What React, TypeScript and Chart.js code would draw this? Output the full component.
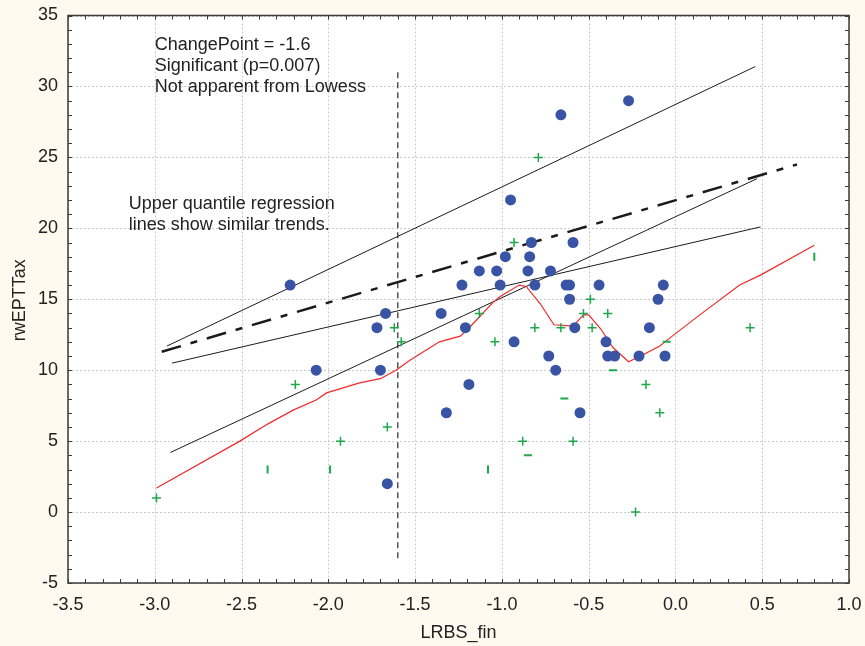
import React, { useEffect, useRef } from 'react';
import { Chart, registerables } from 'chart.js';

Chart.register(...registerables);

const X_TICKS = [-3.5, -3.0, -2.5, -2.0, -1.5, -1.0, -0.5, 0.0, 0.5, 1.0];
const Y_TICKS = [-5, 0, 5, 10, 15, 20, 25, 30, 35];
const X_TITLE = 'LRBS_fin';
const Y_TITLE = 'rwEPTTax';

// Observed values (blue circles)
const BLUE_X = [-0.66, -0.27, -0.95, -2.22, -2.07, -0.83, -0.59, -0.98, -0.84, -1.13, -1.03, -0.85, -0.72, -1.23, -1.01, -0.81, -0.63, -0.61, -0.44, -0.07, -0.61, -0.10, -1.67, -1.35, -1.72, -1.21, -0.58, -0.15, -0.93, -0.40, -0.73, -0.39, -0.35, -0.21, -0.06, -1.70, -0.69, -1.19, -1.32, -0.55, -1.66];
const BLUE_Y = [28, 29, 22, 16, 10, 19, 19, 18, 18, 17, 17, 17, 17, 16, 16, 16, 16, 16, 16, 16, 15, 15, 14, 14, 13, 13, 13, 13, 12, 12, 11, 11, 11, 11, 11, 10, 10, 9, 7, 7, 2];

// Green plus markers
const PLUS_X = [-0.79, -2.19, -0.93, -0.49, -1.13, -0.53, -0.39, -1.62, -0.81, -0.66, -0.48, -1.58, -1.04, -0.17, -0.09, 0.43, -1.66, -1.93, -2.99, -0.88, -0.59, -0.23];
const PLUS_Y = [25, 9, 19, 15, 14, 14, 14, 13, 13, 13, 13, 12, 12, 9, 7, 13, 6, 5, 1, 5, 5, 0];
// Green dash markers
const DASH_X = [-0.36, -0.64, -0.05, -0.85];
const DASH_Y = [10, 8, 12, 4];
// Green bar markers
const BAR_X = [0.80, -2.35, -1.99, -1.08];
const BAR_Y = [18, 3, 3, 3];

// Lowess curve
const LOWESS_X = [-2.99, -2.51, -2.35, -2.20, -2.07, -2.01, -1.82, -1.70, -1.61, -1.53, -1.36, -1.24, -1.18, -1.05, -1.01, -0.90, -0.86, -0.78, -0.70, -0.59, -0.53, -0.50, -0.43, -0.36, -0.27, -0.20, -0.09, -0.05, 0.14, 0.37, 0.49, 0.80];
const LOWESS_Y = [1.7, 5.0, 6.2, 7.2, 7.9, 8.4, 9.1, 9.4, 10.0, 10.7, 12.0, 12.4, 13.1, 14.8, 15.2, 16.0, 15.9, 14.7, 13.2, 13.1, 13.9, 13.9, 12.9, 11.6, 10.6, 11.0, 11.7, 12.1, 13.9, 16.0, 16.7, 18.8];

// Quantile regression lines (endpoints)
const UPPER_X = [-2.93, 0.46];
const UPPER_Y = [11.7, 31.4];
const MID_X = [-2.90, 0.49];
const MID_Y = [10.5, 20.1];
const STEEP_X = [-2.91, 0.47];
const STEEP_Y = [4.2, 23.5];
const DASHED_X = [-2.96, 0.70];
const DASHED_Y = [11.3, 24.5];

// Change point
const CHANGE_X = [-1.6, -1.6];
const CHANGE_Y = [31, -3.4];

const NOTES = [
  { text: 'ChangePoint = -1.6', x: -3.0, y: 32.9 },
  { text: 'Significant (p=0.007)', x: -3.0, y: 31.45 },
  { text: 'Not apparent from Lowess', x: -3.0, y: 29.97 },
  { text: 'Upper quantile regression', x: -3.15, y: 21.7 },
  { text: 'lines show similar trends.', x: -3.15, y: 20.22 },
];

const FONT = '"Liberation Sans", Arial, Helvetica, sans-serif';
const BLUE = '#3a54a5';
const GREEN = '#1ea84b';
const RED = '#ee2a2a';
const INK = '#1b1b1b';

const zip = (xs: number[], ys: number[]) => xs.map((x, i) => ({ x, y: ys[i] }));

const gridPlugin = {
  id: 'gridPlugin',
  beforeDatasetsDraw(chart: any) {
    const { ctx, chartArea: a, scales } = chart;
    const xs = scales.x, ys = scales.y;
    ctx.save();
    ctx.strokeStyle = '#c9c9c9';
    ctx.lineWidth = 1;
    ctx.setLineDash([2, 2]);
    X_TICKS.forEach((v) => {
      const p = Math.round(xs.getPixelForValue(v)) + 0.5;
      ctx.beginPath(); ctx.moveTo(p, a.top); ctx.lineTo(p, a.bottom); ctx.stroke();
    });
    Y_TICKS.forEach((v) => {
      const p = Math.round(ys.getPixelForValue(v)) + 0.5;
      ctx.beginPath(); ctx.moveTo(a.left, p); ctx.lineTo(a.right, p); ctx.stroke();
    });
    ctx.restore();
  },
  afterDraw(chart: any) {
    const { ctx, chartArea: a, scales } = chart;
    const xs = scales.x, ys = scales.y;
    ctx.save();
    ctx.strokeStyle = '#3a3a3a';
    ctx.lineWidth = 1.5;
    ctx.strokeRect(a.left, a.top, a.right - a.left, a.bottom - a.top);
    ctx.lineWidth = 1;
    const x0 = X_TICKS[0], x1 = X_TICKS[X_TICKS.length - 1];
    const nx = Math.round((x1 - x0) / 0.1);
    for (let i = 0; i <= nx; i++) {
      const p = Math.round(xs.getPixelForValue(x0 + i * 0.1)) + 0.5;
      ctx.beginPath();
      ctx.moveTo(p, a.bottom); ctx.lineTo(p, a.bottom - 4);
      ctx.moveTo(p, a.top); ctx.lineTo(p, a.top + 4);
      ctx.stroke();
    }
    const y0 = Y_TICKS[0], y1 = Y_TICKS[Y_TICKS.length - 1];
    for (let v = y0; v <= y1; v++) {
      const p = Math.round(ys.getPixelForValue(v)) + 0.5;
      ctx.beginPath();
      ctx.moveTo(a.left, p); ctx.lineTo(a.left + 4, p);
      ctx.moveTo(a.right, p); ctx.lineTo(a.right - 4, p);
      ctx.stroke();
    }
    ctx.fillStyle = '#222';
    ctx.font = `18px ${FONT}`;
    ctx.textBaseline = 'middle';
    ctx.textAlign = 'left';
    NOTES.forEach((n) => ctx.fillText(n.text, xs.getPixelForValue(n.x), ys.getPixelForValue(n.y)));
    ctx.textAlign = 'center';
    ctx.fillText(X_TITLE, (a.left + a.right) / 2, chart.height - 13);
    ctx.translate(20, (a.top + a.bottom) / 2 + 1);
    ctx.rotate(-Math.PI / 2);
    ctx.fillText(Y_TITLE, 0, 0);
    ctx.restore();
  },
};

export default function App() {
  const ref = useRef<HTMLCanvasElement | null>(null);
  useEffect(() => {
    if (!ref.current) return;
    const lineDs = (xs: number[], ys: number[], color: string, width: number, dash: number[] = []) => ({
      type: 'line' as const,
      data: zip(xs, ys),
      borderColor: color,
      borderWidth: width,
      borderDash: dash,
      pointRadius: 0,
      fill: false,
      tension: 0,
      showLine: true,
    });
    const chart = new Chart(ref.current, {
      type: 'scatter',
      data: {
        datasets: [
          { data: zip(BLUE_X, BLUE_Y), pointStyle: 'circle', pointRadius: 5.5, backgroundColor: BLUE, borderColor: BLUE, borderWidth: 0 } as any,
          { data: zip(PLUS_X, PLUS_Y), pointStyle: 'cross', pointRadius: 4.5, borderColor: GREEN, borderWidth: 1.5 } as any,
          { data: zip(DASH_X, DASH_Y), pointStyle: 'line', pointRadius: 4, borderColor: GREEN, borderWidth: 2 } as any,
          { data: zip(BAR_X, BAR_Y), pointStyle: 'line', pointRotation: 90, pointRadius: 4, borderColor: GREEN, borderWidth: 2 } as any,
          lineDs(LOWESS_X, LOWESS_Y, RED, 1.2),
          lineDs(UPPER_X, UPPER_Y, INK, 1),
          lineDs(MID_X, MID_Y, INK, 1),
          lineDs(STEEP_X, STEEP_Y, INK, 1),
          lineDs(DASHED_X, DASHED_Y, INK, 2.5, [20, 10, 7, 10]),
          lineDs(CHANGE_X, CHANGE_Y, '#555', 1.5, [6, 4]),
        ] as any,
      },
      options: {
        responsive: false,
        animation: false,
        devicePixelRatio: 1,
        layout: { padding: { left: 0, top: 15.5, right: 16, bottom: 0 } },
        plugins: { legend: { display: false }, tooltip: { enabled: false } },
        scales: {
          x: {
            type: 'linear',
            min: X_TICKS[0],
            max: X_TICKS[X_TICKS.length - 1],
            afterBuildTicks: (s: any) => { s.ticks = X_TICKS.map((v) => ({ value: v })); },
            afterFit: (s: any) => { s.height = 63; s.paddingLeft = 0; s.paddingRight = 0; },
            grid: { display: false, drawTicks: false },
            border: { display: false },
            ticks: { color: '#222', font: { size: 18, family: FONT }, padding: 11, maxRotation: 0, autoSkip: false, callback: (v: any) => Number(v).toFixed(1) },
          },
          y: {
            type: 'linear',
            min: Y_TICKS[0],
            max: Y_TICKS[Y_TICKS.length - 1],
            afterBuildTicks: (s: any) => { s.ticks = Y_TICKS.map((v) => ({ value: v })); },
            afterFit: (s: any) => { s.width = 68; s.paddingTop = 0; s.paddingBottom = 0; },
            grid: { display: false, drawTicks: false },
            border: { display: false },
            ticks: { color: '#222', font: { size: 18, family: FONT }, padding: 10, autoSkip: false, callback: (v: any) => String(v) },
          },
        },
      } as any,
      plugins: [gridPlugin],
    });
    return () => chart.destroy();
  }, []);
  return (
    <div style={{ position: 'fixed', left: 0, top: 0, width: 865, height: 646, background: '#fff9f0' }}>
      <div style={{ position: 'absolute', left: 68, top: 15, width: 781, height: 568, background: '#ffffff' }} />
      <canvas ref={ref} width={865} height={646} style={{ position: 'absolute', left: 0, top: 0, width: 865, height: 646 }} />
    </div>
  );
}
